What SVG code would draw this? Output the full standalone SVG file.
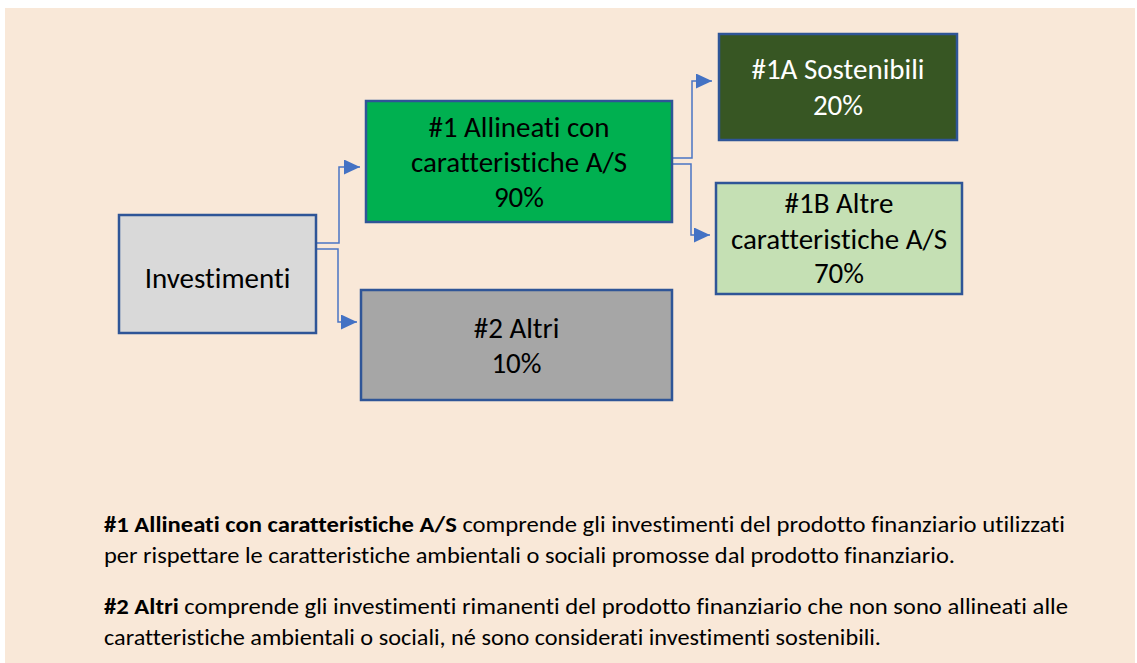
<svg xmlns="http://www.w3.org/2000/svg" width="1137" height="663" viewBox="0 0 1137 663">
<style>
text{font-variant-ligatures:none;font-feature-settings:"liga" 0}
.bx{stroke:#2f5597;stroke-width:2.5}
.lb{font-family:Carlito,"Liberation Sans",Arial,sans-serif;font-size:29px;text-anchor:middle;fill:#000}
.ft{font-family:Carlito,"Liberation Sans",Arial,sans-serif;font-size:22px;fill:#000}
.cn{fill:none;stroke:#4a74c4;stroke-width:1.5}
</style>
<defs>
<marker id="ah" markerUnits="userSpaceOnUse" markerWidth="16" markerHeight="15" refX="16" refY="7.5" orient="auto" viewBox="0 0 16 15">
<path d="M0,0 L16,7.5 L0,15 z" fill="#4472c4"/>
</marker>
</defs>
<rect x="0" y="0" width="1137" height="663" fill="#ffffff"/>
<rect x="5" y="8" width="1130" height="655" fill="#f9e8d8"/>
<g id="connectors">
<path class="cn" d="M316,243 H339 V167 H360" marker-end="url(#ah)"/>
<path class="cn" d="M316,249 H338 V322 H357" marker-end="url(#ah)"/>
<path class="cn" d="M672,158 H692 V81 H712" marker-end="url(#ah)"/>
<path class="cn" d="M672,164 H691 V235 H710" marker-end="url(#ah)"/>
</g>
<g id="investimenti">
<rect class="bx" x="119" y="215" width="197" height="118" fill="#d9d9d9"/>
<text class="lb" x="217.5" y="288">Investimenti</text>
</g>
<g id="n1">
<rect class="bx" x="366" y="101" width="306" height="121" fill="#00b050"/>
<text class="lb" x="519" y="137">#1 Allineati con</text>
<text class="lb" x="519" y="172">caratteristiche A/S</text>
<text class="lb" x="519" y="207">90%</text>
</g>
<g id="n2">
<rect class="bx" x="361" y="290" width="311" height="110" fill="#a6a6a6"/>
<text class="lb" x="516.5" y="338">#2 Altri</text>
<text class="lb" x="516.5" y="373">10%</text>
</g>
<g id="n1a">
<rect class="bx" x="719" y="34" width="238" height="106" fill="#375623"/>
<text class="lb" x="838" y="79" style="fill:#ffffff">#1A Sostenibili</text>
<text class="lb" x="838" y="115" style="fill:#ffffff">20%</text>
</g>
<g id="n1b">
<rect class="bx" x="716" y="183" width="246" height="111" fill="#c5e0b4"/>
<text class="lb" x="839" y="213">#1B Altre</text>
<text class="lb" x="839" y="249">caratteristiche A/S</text>
<text class="lb" x="839" y="283">70%</text>
</g>
<g id="footer">
<text class="ft" x="104" y="532" textLength="961" lengthAdjust="spacingAndGlyphs"><tspan font-weight="bold">#1 Allineati con caratteristiche A/S</tspan> comprende gli investimenti del prodotto finanziario utilizzati</text>
<text class="ft" x="104" y="563" textLength="851" lengthAdjust="spacingAndGlyphs">per rispettare le caratteristiche ambientali o sociali promosse dal prodotto finanziario.</text>
<text class="ft" x="104" y="614" textLength="964" lengthAdjust="spacingAndGlyphs"><tspan font-weight="bold">#2 Altri</tspan> comprende gli investimenti rimanenti del prodotto finanziario che non sono allineati alle</text>
<text class="ft" x="104" y="645" textLength="777" lengthAdjust="spacingAndGlyphs">caratteristiche ambientali o sociali, né sono considerati investimenti sostenibili.</text>
</g>
</svg>
